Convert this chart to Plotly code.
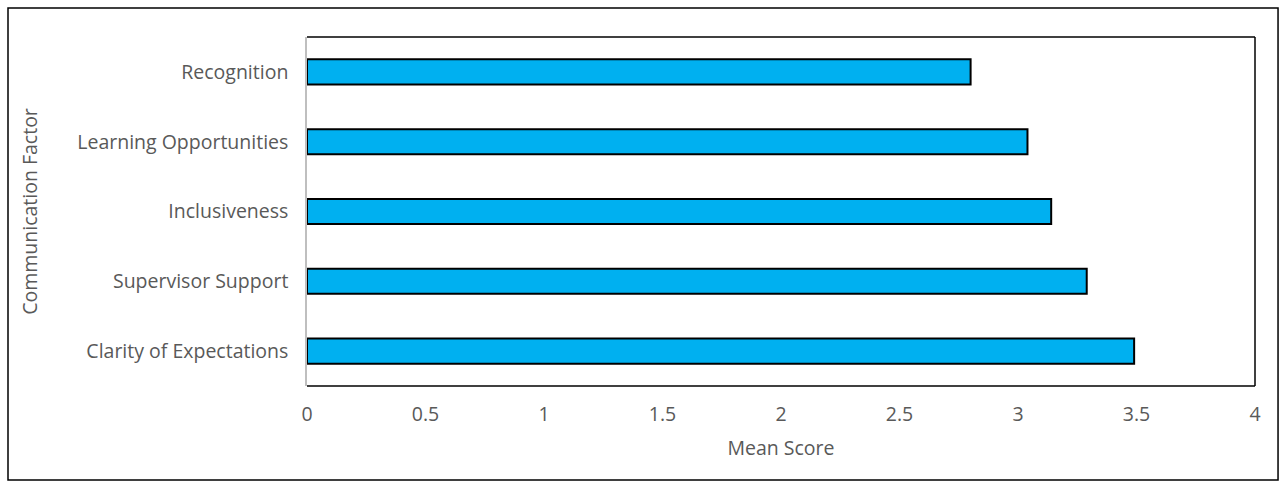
import plotly.graph_objects as go

categories = ["Clarity of Expectations", "Supervisor Support", "Inclusiveness",
              "Learning Opportunities", "Recognition"]
mean_scores = [3.49, 3.29, 3.14, 3.04, 2.80]
x_ticks = [0, 0.5, 1, 1.5, 2, 2.5, 3, 3.5, 4]
x_tick_labels = ["0", "0.5", "1", "1.5", "2", "2.5", "3", "3.5", "4"]

font_fam = "Open Sans, sans-serif"
gray = "#595959"
fs = 19.5

fig = go.Figure(go.Bar(
    y=categories, x=mean_scores, orientation="h",
    marker=dict(color="#00B0F0", line=dict(color="black", width=2)),
    width=0.36,
))

fig.update_layout(
    width=1286, height=488,
    margin=dict(l=307, r=31, t=37, b=102),
    paper_bgcolor="white", plot_bgcolor="white",
    showlegend=False,
    font=dict(family=font_fam, color=gray, size=fs),
    xaxis=dict(range=[0, 4], tickvals=x_ticks, ticktext=x_tick_labels,
               showgrid=False, zeroline=False, showline=False,
               ticks="", ticklen=0, ticklabelstandoff=14,
               title=dict(text="Mean Score", font=dict(size=fs, color=gray), standoff=15),
               tickfont=dict(size=fs, color=gray)),
    yaxis=dict(range=[-0.5, 4.5], showgrid=False, zeroline=False,
               showline=True, linecolor="#BFBFBF", linewidth=1.5,
               ticks="", ticklabelstandoff=13,
               title=dict(text="Communication Factor", font=dict(size=fs, color=gray), standoff=34),
               tickfont=dict(size=fs, color=gray)),
    shapes=[
        dict(type="line", xref="paper", yref="paper", x0=0, x1=1, y0=1, y1=1,
             line=dict(color="black", width=1.5)),
        dict(type="line", xref="paper", yref="paper", x0=1, x1=1, y0=0, y1=1,
             line=dict(color="black", width=1.5)),
        dict(type="line", xref="paper", yref="paper", x0=0, x1=1, y0=0, y1=0,
             line=dict(color="black", width=1.5)),
        dict(type="rect", xref="paper", yref="paper",
             x0=-0.3154, x1=1.0243, y0=-0.2693, y1=1.0831,
             line=dict(color="black", width=1.5)),
    ],
)

fig.write_html("out.html", config={"displayModeBar": False},
               post_script="document.body.style.margin='0';document.body.style.overflow='hidden';")
